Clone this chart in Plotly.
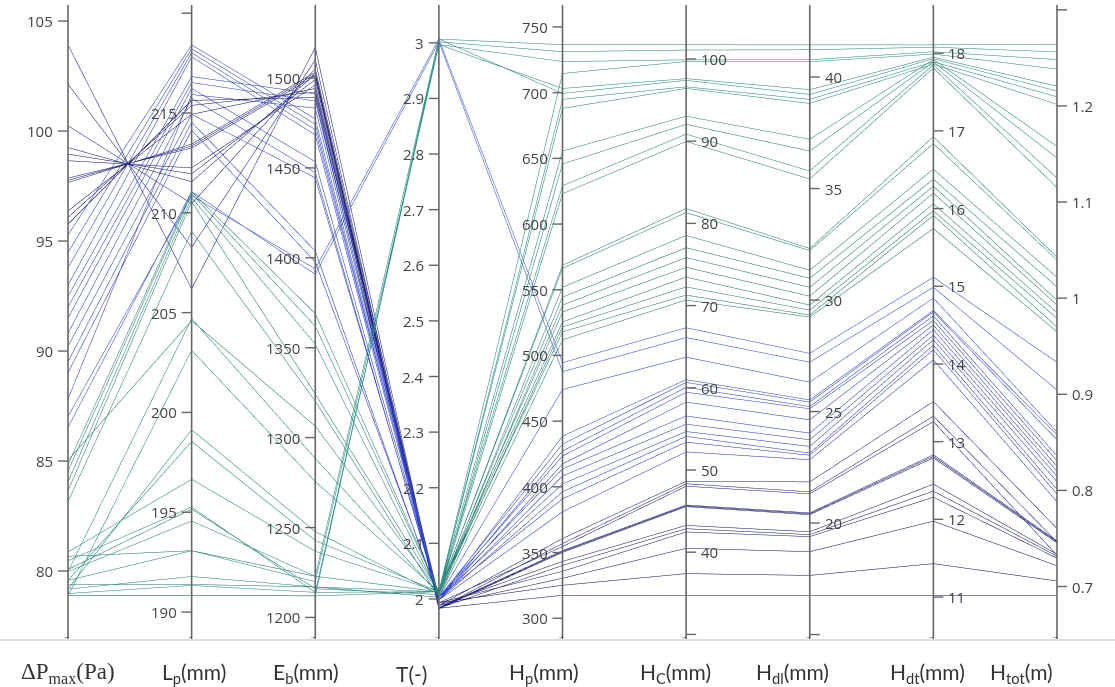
import plotly.graph_objects as go

# ---- data (one entry per design / line) ----
dp = [104.0, 102.2, 100.3, 99.3, 99.0, 98.7, 97.8, 97.7, 97.9, 96.4, 96.1, 95.8,
      87.0, 86.5, 95.3, 94.5, 93.8, 93.0, 92.5, 92.0, 91.5, 90.8, 90.2, 89.5, 89.0, 87.8,
      78.8, 78.8, 78.9, 79.1, 79.5, 79.9, 80.4, 80.8, 79.5, 79.1, 78.8, 79.9,
      84.8, 84.5, 84.0, 83.6, 83.1, 85.0, 78.8, 80.0, 80.6, 79.3]
lp = [206.2, 208.3, 210.5, 211.6, 212.0, 212.3, 213.4, 213.5, 213.3, 215.0, 215.45, 215.7,
      210.9, 211.1, 218.5, 218.3, 218.1, 217.9, 216.9, 216.6, 216.3, 215.8, 215.0, 214.6, 214.2, 216.0,
      190.75, 190.75, 191.25, 191.7, 193.0, 194.5, 195.2, 196.6, 198.5, 199.1, 203.1, 204.7,
      211.1, 211.0, 210.8, 210.6, 209.1, 204.6, 190.75, 195.1, 193.0, 191.3]
eb = [1518, 1511, 1506, 1503, 1500, 1497, 1503, 1504, 1502, 1495, 1493, 1490,
      1394, 1391, 1478, 1475, 1472, 1469, 1492, 1488, 1454, 1448, 1445, 1404, 1398, 1484,
      1211, 1211, 1213, 1216, 1219, 1222, 1213, 1236, 1242, 1247, 1275, 1288,
      1369, 1362, 1352, 1324, 1320, 1306, 1211, 1215, 1222, 1216]
t = [1.985, 1.98, 1.99, 1.985, 1.98, 1.99, 1.98, 1.981, 1.979, 1.985, 1.99, 1.98,
     3.01, 3.005, 2.0, 1.995, 2.0, 1.995, 2.0, 1.995, 2.0, 1.995, 2.0, 1.995, 2.0, 1.995,
     3.01, 3.005, 3.0, 2.01, 3.0, 3.01, 2.01, 2.01, 2.01, 2.005, 2.01, 2.005,
     2.01, 2.01, 2.005, 2.01, 2.0, 2.01, 2.01, 2.005, 2.01, 2.0]
hp = [359.6, 355.8, 353.5, 342.1, 339.0, 334.5, 349.7, 350.3, 349.0, 329.2, 323.8, 316.2,
      494.3, 487.4, 473.7, 438.0, 431.9, 426.6, 422.8, 416.7, 412.9, 407.5, 401.4, 395.4, 390.0, 380.1,
      737.8, 732.5, 724.9, 715.8, 704.3, 700.5, 696.0, 689.1, 656.4, 646.5, 629.8, 623.7,
      568.9, 566.6, 552.1, 544.5, 538.4, 533.1, 525.5, 521.7, 517.9, 511.8]
hc = [48.5, 48.2, 47.9, 43.1, 42.7, 42.3, 45.5, 45.6, 45.4, 40.3, 37.2, 34.5,
      67.3, 66.1, 63.7, 60.95, 60.6, 60.0, 59.4, 58.2, 56.5, 55.5, 54.6, 54.0, 53.3, 52.1,
      101.95, 101.3, 100.1, 99.9, 97.8, 97.6, 96.8, 96.6, 93.2, 92.2, 91.0, 90.1,
      81.9, 81.4, 78.6, 77.1, 75.9, 74.7, 73.5, 72.3, 71.3, 70.7]
hdl = [21.8, 21.35, 21.26, 19.55, 19.42, 19.33, 20.36, 20.4, 20.32, 18.65, 17.58, 16.68,
       27.6, 27.2, 26.3, 25.5, 25.4, 25.2, 25.1, 24.6, 24.0, 23.7, 23.4, 23.1, 23.0, 22.8,
       41.52, 41.3, 40.85, 40.76, 39.5, 39.28, 39.06, 38.88, 37.26, 36.73, 35.83, 35.47,
       32.33, 32.24, 31.35, 30.99, 30.58, 30.18, 29.78, 29.55, 29.33, 29.24]
hdt = [13.51, 13.32, 13.25, 12.44, 12.35, 12.27, 12.80, 12.82, 12.78, 11.96, 11.41, 11.00,
       15.12, 14.99, 14.85, 14.69, 14.67, 14.62, 14.56, 14.50, 14.44, 14.37, 14.31, 14.24, 14.18, 14.05,
       18.13, 18.10, 18.04, 18.01, 17.97, 17.95, 17.91, 17.88, 17.94, 17.91, 17.87, 17.83,
       16.94, 16.85, 16.52, 16.39, 16.30, 16.21, 16.07, 15.98, 15.92, 15.75]
htot = [0.759, 0.745, 0.731, 0.732, 0.730, 0.728, 0.745, 0.746, 0.744, 0.720, 0.704, 0.689,
        0.933, 0.904, 0.860, 0.857, 0.852, 0.835, 0.830, 0.824, 0.819, 0.814, 0.808, 0.800, 0.795, 0.787,
        1.266, 1.258, 1.250, 1.240, 1.222, 1.217, 1.211, 1.203, 1.159, 1.147, 1.126, 1.116,
        1.043, 1.040, 1.022, 1.012, 0.998, 0.993, 0.985, 0.979, 0.970, 0.965]

# ---- axis labels / ticks ----
axis_labels = ["ΔP<sub>max</sub>(Pa)", "L<sub>p</sub>(mm)", "E<sub>b</sub>(mm)", "T(-)",
               "H<sub>p</sub>(mm)", "H<sub>C</sub>(mm)", "H<sub>dl</sub>(mm)",
               "H<sub>dt</sub>(mm)", "H<sub>tot</sub>(m)"]
label_x_px = [68, 194, 306, 411, 544, 675, 792, 927, 1021]

dp_ticks = [80, 85, 90, 95, 100, 105]
lp_ticks = [190, 195, 200, 205, 210, 215, 220]
eb_ticks = [1200, 1250, 1300, 1350, 1400, 1450, 1500]
t_ticks = [2, 2.1, 2.2, 2.3, 2.4, 2.5, 2.6, 2.7, 2.8, 2.9, 3]
hp_ticks = [300, 350, 400, 450, 500, 550, 600, 650, 700, 750]
hc_ticks = [30, 40, 50, 60, 70, 80, 90, 100]
hdl_ticks = [15, 20, 25, 30, 35, 40]
hdt_ticks = [11, 12, 13, 14, 15, 16, 17, 18]
htot_ticks = [0.7, 0.8, 0.9, 1.0, 1.1, 1.2, 1.3]

ranges = [[76.91, 105.73], [188.65, 220.41], [1188.0, 1540.6], [1.928, 3.068],
          [284.2, 766.7], [29.44, 106.57], [14.80, 43.23], [10.46, 18.62], [0.6454, 1.305]]


def txt(vals, hidden=()):
    return ["" if v in hidden else ("%g" % v) for v in vals]


axes = [
    (dp, dp_ticks, txt(dp_ticks), "left"),
    (lp, lp_ticks, txt(lp_ticks, (220,)), "left"),
    (eb, eb_ticks, txt(eb_ticks), "left"),
    (t, t_ticks, txt(t_ticks), "left"),
    (hp, hp_ticks, txt(hp_ticks), "left"),
    (hc, hc_ticks, txt(hc_ticks, (30,)), "right"),
    (hdl, hdl_ticks, txt(hdl_ticks, (15,)), "right"),
    (hdt, hdt_ticks, txt(hdt_ticks), "right"),
    (htot, htot_ticks, txt(htot_ticks, (1.3,)), "right"),
]

# parcoords' own tick marks are replaced by the axis decorations drawn below
dims = [dict(label="", values=vals, range=ranges[i], tickvals=[ranges[i][0]], ticktext=[""])
        for i, (vals, _, _, _) in enumerate(axes)]

colorscale = [[0.0, '#15155a'], [0.21, '#222488'], [0.25, '#2c3ccc'], [0.49, '#3550e6'],
              [0.52, '#1f8072'], [1.0, '#27998c']]

fig = go.Figure(go.Parcoords(
    dimensions=dims,
    line=dict(color=hc, colorscale=colorscale, cmin=34.5, cmax=102, showscale=False),
    tickfont=dict(family="Open Sans", size=1, color="rgba(0,0,0,0)"),
    rangefont=dict(size=1, color="rgba(0,0,0,0)"),
    labelfont=dict(size=1, color="rgba(0,0,0,0)"),
    domain=dict(x=[0, 1], y=[0, 1]),
))

W, H = 1115, 687
ml, mr, mt, mb = 68, 58, 5, 48
pw = W - ml - mr
ph = H - mt - mb
n = len(dims)
tick_font = dict(family="Open Sans", size=15, color="#444")

for i, (vals, tv, tt, side) in enumerate(axes):
    xa = i / (n - 1)
    lo, hi = ranges[i]
    fig.add_shape(type="line", xref="paper", yref="paper", x0=xa, x1=xa, y0=0, y1=1,
                  line=dict(color="#666", width=1.6), layer="above")
    sgn = 1 if side == "right" else -1
    anchor = "left" if side == "right" else "right"
    for v, s in zip(tv, tt):
        yv = (v - lo) / (hi - lo)
        fig.add_shape(type="line", xref="paper", yref="paper", x0=xa, x1=xa + sgn * 10 / pw,
                      y0=yv, y1=yv, line=dict(color="#666", width=1.4), layer="above")
        if s:
            fig.add_annotation(x=xa + sgn * 13 / pw, y=yv, xref="paper", yref="paper", text=s,
                               showarrow=False, xanchor=anchor, yanchor="middle",
                               font=tick_font)

for k, (lab, xp) in enumerate(zip(axis_labels, label_x_px)):
    fam = "Liberation Serif" if k == 0 else "Lato"
    sz = 23 if k == 0 else 21
    fig.add_annotation(x=(xp - ml) / pw, y=-(673 - (H - mb)) / ph,
                       xref="paper", yref="paper", text=lab, showarrow=False,
                       xanchor="center", yanchor="middle",
                       font=dict(family=fam, size=sz, color="#333"))

fig.add_shape(type="line", xref="paper", yref="paper", x0=-ml / pw, x1=(W - ml) / pw,
              y0=-1 / ph, y1=-1 / ph, line=dict(color="#bbb", width=1))

fig.update_layout(width=W, height=H, margin=dict(l=ml, r=mr, t=mt, b=mb),
                  paper_bgcolor="white", plot_bgcolor="white", showlegend=False)
fig.write_html("out.html")
